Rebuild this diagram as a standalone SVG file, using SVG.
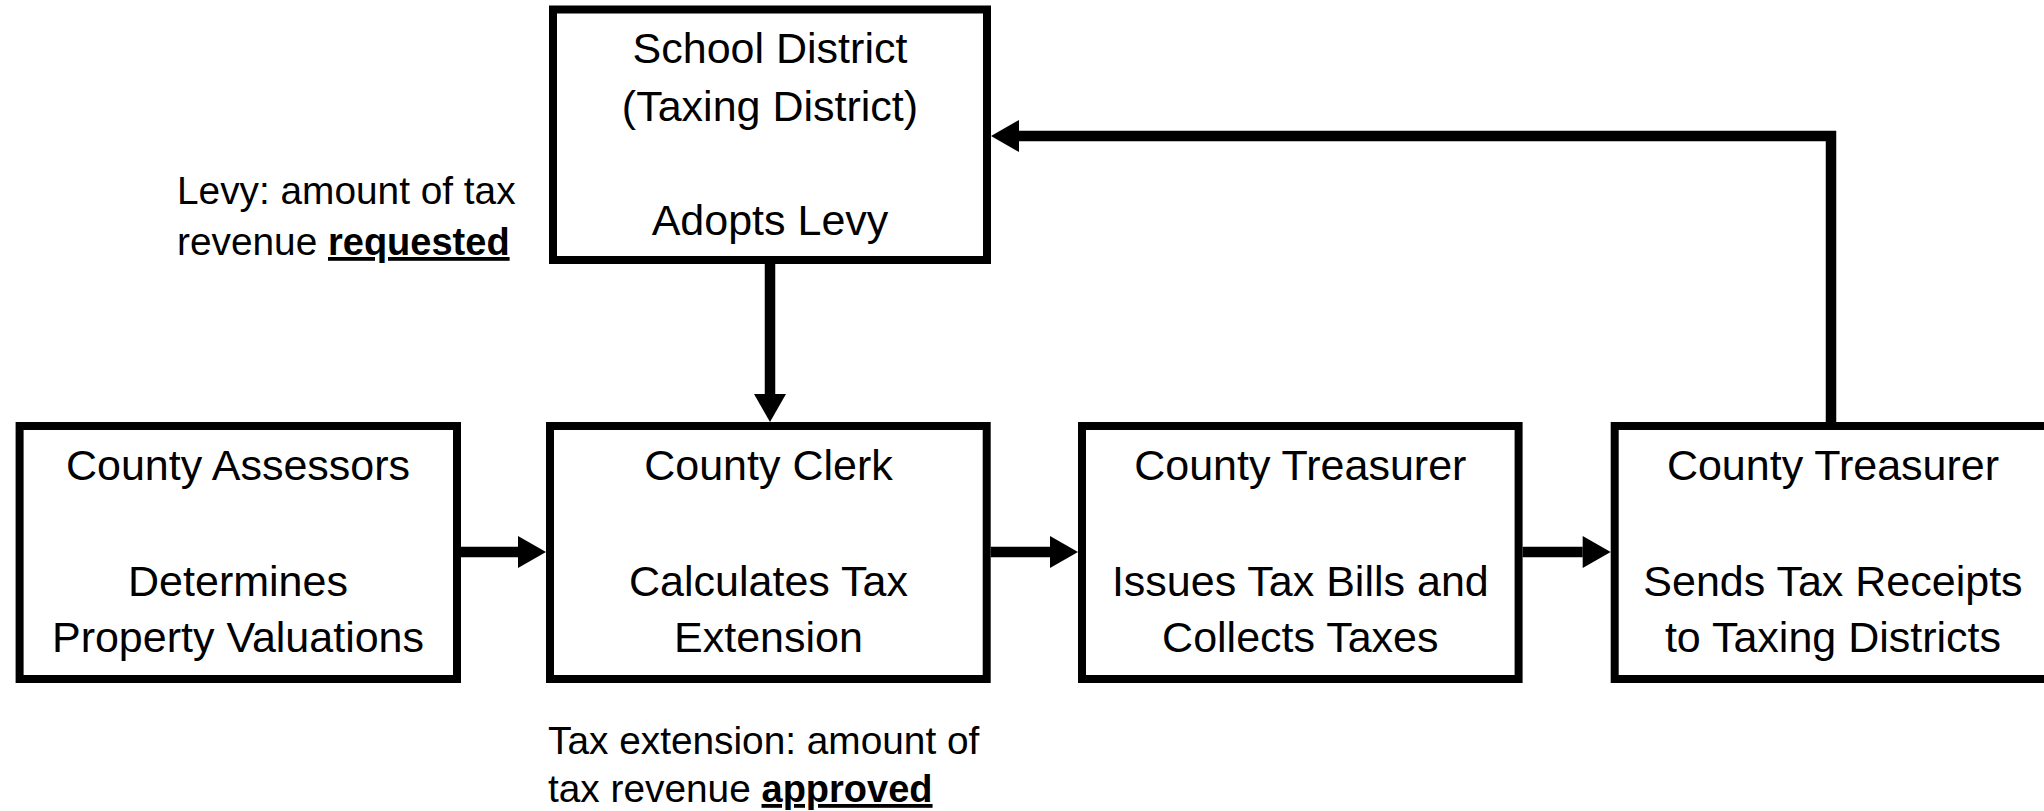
<svg xmlns="http://www.w3.org/2000/svg" width="2044" height="811" viewBox="0 0 2044 811">
  <style>
    .box { fill: #ffffff; stroke: #000000; stroke-width: 8; }
    .node-text { font-family: "Liberation Sans", Arial, sans-serif; font-size: 43px; fill: #000000; text-anchor: middle; }
    .label { font-family: "Liberation Sans", Arial, sans-serif; font-size: 38.8px; fill: #000000; }
    .em { font-weight: bold; text-decoration: underline; font-size: 38px; }
    .conn { fill: none; stroke: #000000; stroke-width: 10.5; stroke-linejoin: miter; stroke-linecap: butt; }
  </style>
  <defs>
    <marker id="arrow" markerUnits="userSpaceOnUse" markerWidth="28" markerHeight="32" refX="0" refY="16" orient="auto" overflow="visible">
      <path d="M0,0 L28,16 L0,32 Z" fill="#000000"/>
    </marker>
  </defs>
  <rect width="2044" height="811" fill="#ffffff"/>

  <g id="school-district">
    <rect class="box" x="553" y="9.5" width="434" height="250.5"/>
    <text class="node-text" x="770" y="63">School District</text>
    <text class="node-text" x="770" y="121">(Taxing District)</text>
    <text class="node-text" x="770" y="235">Adopts Levy</text>
  </g>

  <g id="county-assessors">
    <rect class="box" x="19.6" y="426" width="437.4" height="253"/>
    <text class="node-text" x="238" y="480">County Assessors</text>
    <text class="node-text" x="238" y="596">Determines</text>
    <text class="node-text" x="238" y="652">Property Valuations</text>
  </g>

  <g id="county-clerk">
    <rect class="box" x="550" y="426" width="436.7" height="253"/>
    <text class="node-text" x="768.5" y="480">County Clerk</text>
    <text class="node-text" x="768.5" y="596">Calculates Tax</text>
    <text class="node-text" x="768.5" y="652">Extension</text>
  </g>

  <g id="county-treasurer-collects">
    <rect class="box" x="1082" y="426" width="436.6" height="253"/>
    <text class="node-text" x="1300.3" y="480">County Treasurer</text>
    <text class="node-text" x="1300.3" y="596">Issues Tax Bills and</text>
    <text class="node-text" x="1300.3" y="652">Collects Taxes</text>
  </g>

  <g id="county-treasurer-sends">
    <rect class="box" x="1614.7" y="426" width="437" height="253"/>
    <text class="node-text" x="1833" y="480">County Treasurer</text>
    <text class="node-text" x="1833" y="596">Sends Tax Receipts</text>
    <text class="node-text" x="1833" y="652">to Taxing Districts</text>
  </g>

  <g id="levy-label">
    <text class="label" x="177" y="204">Levy: amount of tax</text>
    <text class="label" x="177" y="255">revenue <tspan class="em">requested</tspan></text>
  </g>

  <g id="extension-label">
    <text class="label" x="548" y="754">Tax extension: amount of</text>
    <text class="label" x="548" y="802">tax revenue <tspan class="em">approved</tspan></text>
  </g>

  <g id="connectors">
    <path class="conn" d="M461,552 L518,552" marker-end="url(#arrow)"/>
    <path class="conn" d="M990.7,552 L1050,552" marker-end="url(#arrow)"/>
    <path class="conn" d="M1522.6,552 L1582.7,552" marker-end="url(#arrow)"/>
    <path class="conn" d="M770,264 L770,394" marker-end="url(#arrow)"/>
    <path class="conn" d="M1831,422 L1831,136 L1019,136" marker-end="url(#arrow)"/>
  </g>
</svg>
